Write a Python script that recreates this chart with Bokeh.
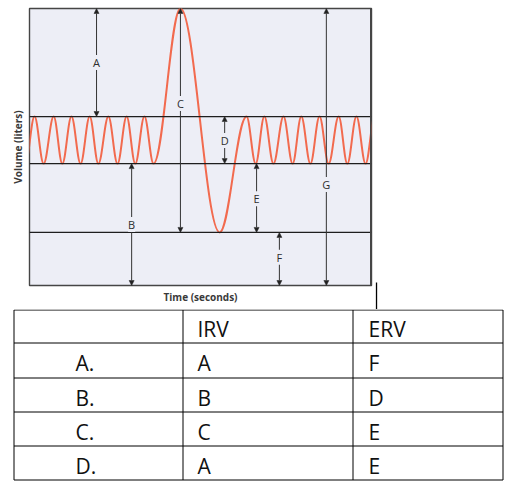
from bokeh.plotting import figure
from bokeh.models import Range1d, Span, Arrow, NormalHead, LabelSet, ColumnDataSource, FixedTicker
from bokeh.layouts import column
from bokeh.embed import file_html
from bokeh.resources import INLINE
from bokeh.core.properties import value

# ---------------- data ----------------
# extrema of the spirogram trace: time (s), volume (L)
breath_t = [-0.9, 1.1, 3.1, 5.3, 7.2, 9.2, 11.2, 13.2, 15.1, 17.3, 19.3, 21.3, 23.2, 25.2, 27.2,
            33.1, 41.7,
            47.6, 49.6, 51.5, 53.5, 55.7, 57.7, 59.6, 61.6, 63.6, 65.6, 67.8, 69.7, 71.7, 73.7, 75.7]
breath_v = [2.64, 3.66, 2.64, 3.66, 2.64, 3.66, 2.64, 3.66, 2.64, 3.66, 2.64, 3.66, 2.64, 3.66, 2.64,
            6.0, 1.15,
            3.66, 2.64, 3.66, 2.64, 3.66, 2.64, 3.66, 2.64, 3.66, 2.64, 3.66, 2.64, 3.66, 2.64, 3.66]

# reference volume levels (L): end-inspiration, FRC, RV
level_v = [3.66, 2.64, 1.15]

# measurement arrows
arrow_labels = ["A", "B", "C", "D", "E", "F", "G"]
arrow_t = [14.7, 22.4, 33.1, 42.8, 49.8, 54.8, 65.1]
arrow_from = [6.0, 2.64, 6.0, 3.66, 2.64, 1.15, 6.0]
arrow_to = [3.66, 0.0, 1.15, 2.64, 1.15, 0.0, 0.0]
label_v = [4.83, 1.32, 3.94, 3.14, 1.88, 0.61, 2.19]

# answer table
table_header = ["", "IRV", "ERV"]
choices = ["A.", "B.", "C.", "D."]
irv_answers = ["A", "B", "C", "A"]
erv_answers = ["F", "D", "E", "E"]

# ---------------- styles ----------------
BG = "#edeef6"
CURVE = "#f26a4e"
FONT = "Open Sans"
K = 0.3642  # cubic-bezier handle fraction for a smooth half-wave

# ---------------- chart ----------------
p = figure(width=506, height=309, x_range=Range1d(0, 75), y_range=Range1d(0, 6),
           output_backend="svg", toolbar_location=None,
           min_border_left=29, min_border_right=135, min_border_top=8, min_border_bottom=24)
p.xgrid.visible = False
p.ygrid.visible = False
p.background_fill_color = BG
p.border_fill_color = "white"
p.outline_line_color = "#454545"
p.outline_line_width = 1.4

for ax in (p.xaxis[0], p.yaxis[0]):
    ax.ticker = FixedTicker(ticks=[])
    ax.axis_line_color = None
    ax.major_tick_line_color = None
    ax.minor_tick_line_color = None
    ax.major_tick_out = 0
    ax.minor_tick_out = 0
    ax.major_tick_in = 0
    ax.minor_tick_in = 0
    ax.major_label_text_font_size = "0px"
    ax.major_label_standoff = 0
    ax.axis_label_text_font = FONT
    ax.axis_label_text_font_size = "10px"
    ax.axis_label_text_font_style = "bold"
    ax.axis_label_text_color = "#3a3a3a"
p.xaxis.axis_label = "Time (seconds)"
p.xaxis.axis_label_standoff = 4
p.yaxis.axis_label = "Volume (liters)"
p.yaxis.axis_label_standoff = 5

for lv in level_v:
    p.add_layout(Span(location=lv, dimension="width", line_color="#1e1e1e", line_width=1.3))
p.add_layout(Span(location=75, dimension="height", line_color="#454545", line_width=3))

# trace as smooth bezier segments between extrema
x0 = breath_t[:-1]
x1 = breath_t[1:]
y0 = breath_v[:-1]
y1 = breath_v[1:]
cx0 = [a + K * (b - a) for a, b in zip(x0, x1)]
cx1 = [b - K * (b - a) for a, b in zip(x0, x1)]
p.bezier(x0=x0, y0=y0, x1=x1, y1=y1, cx0=cx0, cy0=y0, cx1=cx1, cy1=y1,
         line_color=CURVE, line_width=2)

for t, a, b in zip(arrow_t, arrow_from, arrow_to):
    p.add_layout(Arrow(x_start=t, y_start=a, x_end=t, y_end=b,
                       start=NormalHead(size=5, line_color="#222222", fill_color="#222222", line_width=0.5),
                       end=NormalHead(size=5, line_color="#222222", fill_color="#222222", line_width=0.5),
                       line_color="#333333", line_width=1))

lab_src = ColumnDataSource(dict(x=arrow_t, y=label_v, text=arrow_labels))
p.add_layout(LabelSet(x="x", y="y", text="text", source=lab_src, text_align="center",
                      text_baseline="middle", text_font=value(FONT), text_font_size="11px",
                      text_color="#2e2e2e", background_fill_color=BG))

# small connector tick right of the chart
px_per_l = 277 / 6.0
p.segment(x0=[76.1], y0=[3 / px_per_l], x1=[76.1], y1=[-24 / px_per_l],
          line_color="black", line_width=1.3, level="overlay")

# ---------------- table ----------------
tb = figure(width=506, height=173, x_range=Range1d(0, 506), y_range=Range1d(482, 309),
            output_backend="svg", toolbar_location=None,
            min_border_left=0, min_border_right=0, min_border_top=0, min_border_bottom=0,
            x_axis_location=None, y_axis_location=None)
tb.grid.visible = False
tb.outline_line_color = None
tb.background_fill_color = "white"
tb.border_fill_color = "white"

row_edges = [309.5, 342.5, 377.5, 411.5, 445.5, 479.5]
col_edges = [13.5, 182.5, 352.5, 502.5]
text_x = [75, 197, 368]

tb.segment(x0=[col_edges[0]] * len(row_edges), y0=row_edges,
           x1=[col_edges[-1]] * len(row_edges), y1=row_edges, line_color="black", line_width=1)
tb.segment(x0=col_edges, y0=[row_edges[0]] * len(col_edges),
           x1=col_edges, y1=[row_edges[-1]] * len(col_edges), line_color="black", line_width=1)

cells = [table_header] + [[c, i, e] for c, i, e in zip(choices, irv_answers, erv_answers)]
tx, ty, tt = [], [], []
for r, row in enumerate(cells):
    for c, s in enumerate(row):
        if s:
            tx.append(text_x[c])
            ty.append((row_edges[r] + row_edges[r + 1]) / 2 + 2.5)
            tt.append(s)
tb.text(x=tx, y=ty, text=tt, text_font=value(FONT), text_font_size="21px",
        text_align="left", text_baseline="middle", text_color="#111111")

layout = column(column(p), column(tb), spacing=0)
open("out.html", "w").write(file_html(layout, INLINE))
